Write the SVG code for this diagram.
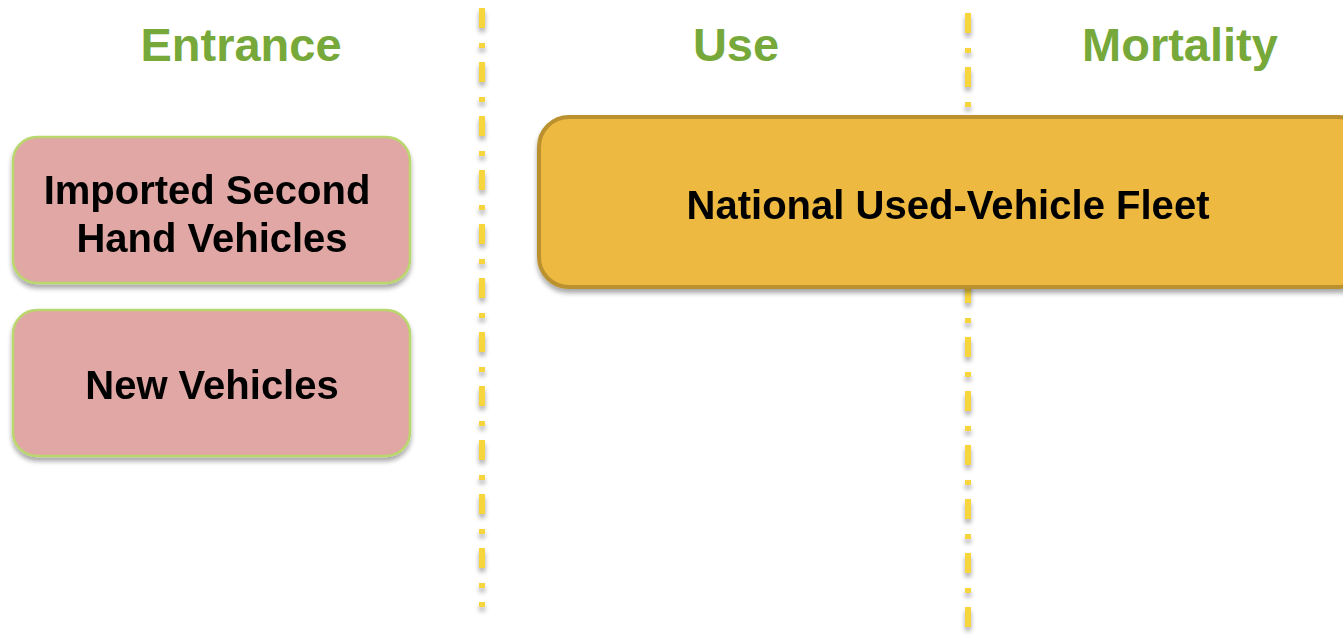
<svg xmlns="http://www.w3.org/2000/svg" width="1343" height="637" viewBox="0 0 1343 637">
  <style>
    .hdr { font-family: "Liberation Sans", Arial, sans-serif; font-weight: bold; font-size: 47px; fill: #77a83a; text-anchor: middle; }
    .lbl { font-family: "Liberation Sans", Arial, sans-serif; font-weight: bold; font-size: 40px; fill: #000; text-anchor: middle; }
    .entry { fill: #e0a7a5; stroke: #b9d76c; stroke-width: 2.5; }
    .fleet { fill: #edb93f; stroke: #ba912f; stroke-width: 4; }
    .divider { stroke: #f7d53c; stroke-width: 6; fill: none; stroke-dasharray: 20 15 5 14; }
  </style>
  <defs>
    <filter id="shadow" x="-10%" y="-10%" width="120%" height="130%">
      <feGaussianBlur in="SourceAlpha" stdDeviation="2.5"/>
      <feOffset dx="0" dy="4" result="b"/>
      <feComponentTransfer><feFuncA type="linear" slope="0.35"/></feComponentTransfer>
      <feMerge><feMergeNode/><feMergeNode in="SourceGraphic"/></feMerge>
    </filter>
  </defs>
  <rect width="1343" height="637" fill="#ffffff"/>

  <!-- column headers -->
  <text class="hdr" x="241" y="61">Entrance</text>
  <text class="hdr" x="736" y="61">Use</text>
  <text class="hdr" x="1180" y="61">Mortality</text>

  <!-- column dividers -->
  <g id="connectors" filter="url(#shadow)">
    <line class="divider" x1="482" y1="8" x2="482" y2="607"/>
    <line class="divider" x1="968" y1="13" x2="968" y2="637"/>
  </g>

  <g id="imported" filter="url(#shadow)">
    <rect class="entry" x="13" y="137" width="397" height="146" rx="24"/>
    <text class="lbl" x="207" y="204">Imported Second</text>
    <text class="lbl" x="212" y="252">Hand Vehicles</text>
  </g>

  <g id="new" filter="url(#shadow)">
    <rect class="entry" x="13" y="310" width="397" height="146" rx="24"/>
    <text class="lbl" x="212" y="399">New Vehicles</text>
  </g>

  <g id="fleet" filter="url(#shadow)">
    <rect class="fleet" x="539" y="117" width="830" height="170" rx="30"/>
    <text class="lbl" x="948" y="219" font-size="38" textLength="523" lengthAdjust="spacingAndGlyphs">National Used-Vehicle Fleet</text>
  </g>
</svg>
